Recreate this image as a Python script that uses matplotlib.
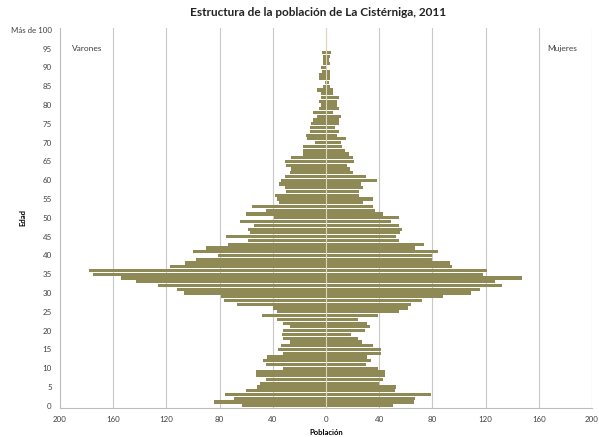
import numpy as np
import matplotlib
matplotlib.use("Agg")
import matplotlib.pyplot as plt

plt.rcParams['font.family'] = ['Lato', 'DejaVu Sans']

# edades 0..100 (100 = "Más de 100")
edades = list(range(0, 101))

varones = [63, 84, 69, 76, 60, 52, 50, 45, 53, 53,
           32, 45, 47, 44, 32, 36, 34, 27, 32, 33,
           32, 27, 32, 37, 48, 37, 40, 67, 77, 79,
           107, 112, 126, 143, 154, 175, 178, 117, 106, 98,
           81, 100, 90, 74, 59, 75, 57, 59, 54, 65,
           39, 60, 45, 56, 35, 37, 38, 30, 31, 35,
           34, 31, 27, 26, 30, 31, 26, 17, 17, 17,
           8, 14, 15, 12, 12, 11, 10, 7, 10, 5,
           4, 5, 4, 4, 7, 2, 1, 5, 5, 3,
           4, 2, 2, 2, 3, 0, 0, 0, 0, 0, 0]

mujeres = [50, 66, 67, 79, 52, 53, 40, 43, 44, 44,
           39, 30, 34, 31, 41, 41, 35, 27, 24, 19,
           29, 33, 31, 24, 39, 55, 62, 64, 72, 88,
           109, 116, 132, 127, 147, 118, 121, 95, 93, 80,
           80, 84, 67, 74, 55, 53, 56, 57, 55, 49,
           55, 43, 37, 35, 28, 35, 25, 25, 28, 26,
           38, 30, 20, 18, 16, 21, 20, 17, 14, 12,
           11, 15, 8, 10, 7, 10, 10, 11, 5, 10,
           8, 8, 10, 5, 5, 3, 2, 3, 3, 3,
           1, 3, 2, 3, 4, 0, 0, 0, 0, 0, 0]

xticks = [-200, -160, -120, -80, -40, 0, 40, 80, 120, 160, 200]
yticks = list(range(0, 101, 5))
ylabels = [str(v) for v in yticks[:-1]] + ['Más de 100']

color_barra = '#8e8955'

fig = plt.figure(figsize=(5.99, 4.37), dpi=100)
ax = fig.add_axes([0.1002, 0.067, 0.8881, 0.869])

ax.barh(edades, [-v for v in varones], height=0.85, color=color_barra, zorder=2)
ax.barh(edades, mujeres, height=0.85, color=color_barra, zorder=2)
ax.axvline(0, color='#ddd8bc', lw=0.8, zorder=3)

ax.set_xlim(-200, 200)
ax.set_ylim(-0.5, 100.5)
ax.set_xticks(xticks)
ax.set_xticklabels([str(abs(v)) for v in xticks])
ax.set_yticks(yticks)
ax.set_yticklabels(ylabels)
ax.tick_params(length=0, labelsize=5.7, colors='#404040', pad=6)

for x in xticks[1:]:
    ax.axvline(x, color='#c8c8c8', lw=0.8, zorder=1)

for s in ['top', 'right']:
    ax.spines[s].set_visible(False)
for s in ['left', 'bottom']:
    ax.spines[s].set_color('#bcbcbc')
    ax.spines[s].set_linewidth(0.8)

ax.text(-191, 95, 'Varones', fontsize=6, va='center', ha='left', color='#404040')
ax.text(189, 95, 'Mujeres', fontsize=6, va='center', ha='right', color='#404040')

fig.text(0.531, 0.972, 'Estructura de la población de La Cistérniga, 2011',
         ha='center', va='center', fontsize=8.5, fontweight='bold', color='#222222')
ax.set_xlabel('Población', fontsize=5.5, fontweight='bold', labelpad=4)
ax.set_ylabel('Edad', fontsize=5.5, fontweight='bold')
ax.yaxis.set_label_coords(-0.064, 0.5)

fig.savefig('out.png', dpi=100)
